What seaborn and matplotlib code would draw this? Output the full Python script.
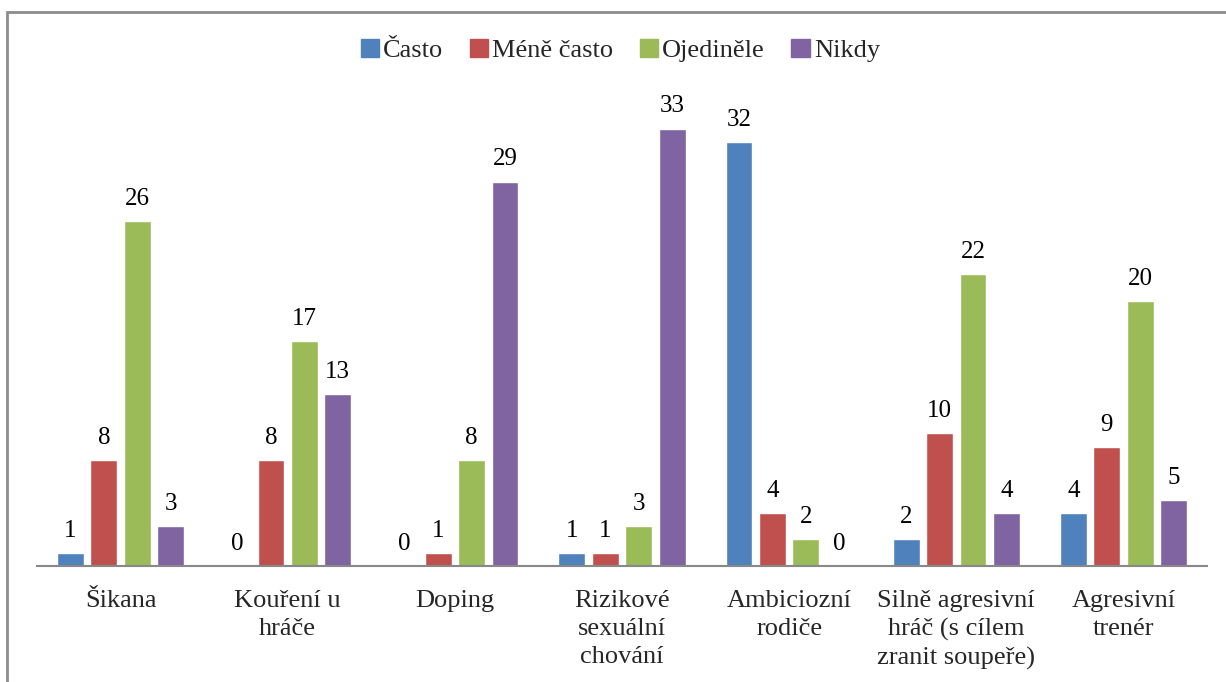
import matplotlib
matplotlib.use("Agg")
import matplotlib.pyplot as plt
import matplotlib.patches as mpatches
import pandas as pd
import seaborn as sns

# data
kategorie = ["Šikana", "Kouření u\nhráče", "Doping", "Rizikové\nsexuální\nchování",
             "Ambiciozní\nrodiče", "Silně agresivní\nhráč (s cílem\nzranit soupeře)",
             "Agresivní\ntrenér"]
serie = ["Často", "Méně často", "Ojediněle", "Nikdy"]
casto = [1, 0, 0, 1, 32, 2, 4]
mene_casto = [8, 8, 1, 1, 4, 10, 9]
ojedinele = [26, 17, 8, 3, 2, 22, 20]
nikdy = [3, 13, 29, 33, 0, 4, 5]
barvy = ["#4F81BD", "#C0504D", "#9BBB59", "#8064A2"]

rows = []
for name, vals in zip(serie, [casto, mene_casto, ojedinele, nikdy]):
    for k, v in zip(kategorie, vals):
        rows.append({"kategorie": k, "serie": name, "hodnota": v})
df = pd.DataFrame(rows)

sns.set_style("white")
plt.rcParams["font.family"] = ["Liberation Serif", "DejaVu Serif"]

fig = plt.figure(figsize=(12.26, 6.82), dpi=100)
ax = fig.add_axes([37 / 1226, 116 / 682, 1170 / 1226, 464 / 682])

sns.barplot(data=df, x="kategorie", y="hodnota", hue="serie", order=kategorie,
            hue_order=serie, palette=barvy, width=0.8, gap=0.2, ax=ax,
            saturation=1, legend=False)

for cont in ax.containers:
    ax.bar_label(cont, fmt="%d", padding=8, fontsize=18, color="black")

ax.set_ylim(0, 35)
ax.set_xlim(-0.5, len(kategorie) - 0.5)
ax.set_yticks([])
ax.set_xlabel("")
ax.set_ylabel("")
for s in ["top", "right", "left"]:
    ax.spines[s].set_visible(False)
ax.spines["bottom"].set_color("#888888")
ax.spines["bottom"].set_linewidth(1.5)
ax.tick_params(axis="x", length=0, pad=17, labelsize=19)
for lab in ax.get_xticklabels():
    lab.set_verticalalignment("top")
    lab.set_linespacing(1.35)

handles = [mpatches.Patch(color=c, label=s) for c, s in zip(barvy, serie)]
fig.legend(handles=handles, loc="center", bbox_to_anchor=(0.506, 0.926), ncol=4,
           frameon=False, fontsize=19, handlelength=0.7, handleheight=0.7,
           handletextpad=0.15, columnspacing=1.0)

# frame of the original chart area (top and left edges visible)
fig.patches.append(mpatches.Rectangle((6.5 / 1226, -0.1), 1.2, 1 - 11.5 / 682 + 0.1,
                                      transform=fig.transFigure, fill=False,
                                      edgecolor="#8c8c8c", linewidth=2))

fig.savefig("out.png", dpi=100)
